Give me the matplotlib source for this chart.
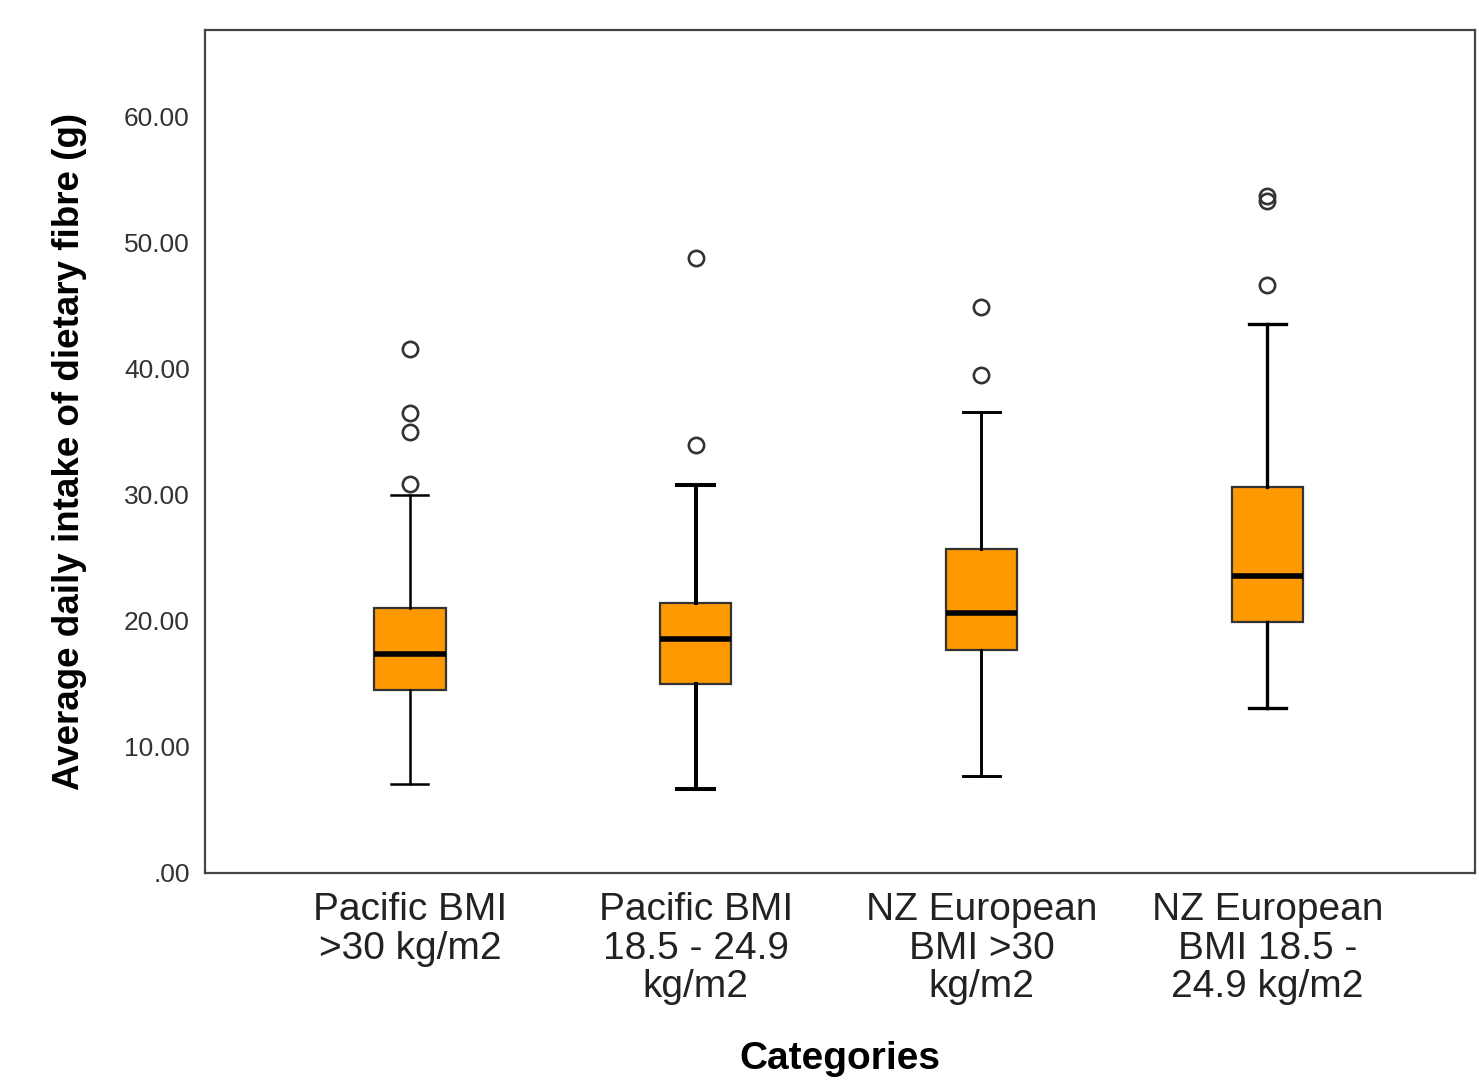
import matplotlib.pyplot as plt

plt.rcParams['font.family'] = ['Liberation Sans', 'DejaVu Sans']

# category labels along the x axis
categories = ["Pacific BMI\n>30 kg/m2",
              "Pacific BMI\n18.5 - 24.9\nkg/m2",
              "NZ European\nBMI >30\nkg/m2",
              "NZ European\nBMI 18.5 -\n24.9 kg/m2"]

# box statistics (grams of fibre per day)
whisker_low = [7.1, 6.7, 7.7, 13.1]
q1 = [14.5, 15.0, 17.7, 19.9]
median = [17.4, 18.6, 20.6, 23.6]
q3 = [21.0, 21.4, 25.7, 30.6]
whisker_high = [30.0, 30.8, 36.6, 43.6]
outliers = [[30.9, 35.0, 36.5, 41.6],
            [34.0, 48.8],
            [39.5, 44.9],
            [46.7, 53.3, 53.7]]

# line width of whiskers differs a bit from box to box in the original
whisker_lw = [1.8, 2.9, 2.1, 2.4]

stats = []
for i in range(len(categories)):
    stats.append({
        "whislo": whisker_low[i], "q1": q1[i], "med": median[i],
        "q3": q3[i], "whishi": whisker_high[i], "fliers": outliers[i],
    })

fig = plt.figure(figsize=(14.79, 10.8), dpi=100)
ax = fig.add_axes([0.1386, 0.1917, 0.8587, 0.7805])

bp = ax.bxp(stats, positions=[1, 2, 3, 4], widths=0.25, patch_artist=True,
            showfliers=True,
            boxprops=dict(facecolor="#ff9900", edgecolor="#333333", linewidth=1.6),
            medianprops=dict(color="black", linewidth=4, solid_capstyle="butt"),
            flierprops=dict(marker="o", markersize=11, markerfacecolor="none",
                            markeredgecolor="#333333", markeredgewidth=1.9))

for i in range(len(categories)):
    for line in bp["whiskers"][2 * i:2 * i + 2] + bp["caps"][2 * i:2 * i + 2]:
        line.set_color("black")
        line.set_linewidth(whisker_lw[i])
    for cap in bp["caps"][2 * i:2 * i + 2]:
        xs = cap.get_xdata()
        mid = (xs[0] + xs[1]) / 2
        cap.set_xdata([mid - 0.065, mid + 0.065])

ax.set_xlim(0.283, 4.727)
ax.set_ylim(0, 66.9)
ax.set_yticks([0, 10, 20, 30, 40, 50, 60])
ax.set_yticklabels([".00", "10.00", "20.00", "30.00", "40.00", "50.00", "60.00"])
ax.set_xticks([1, 2, 3, 4])
ax.set_xticklabels(categories, fontsize=28, color="#222222", va="top")
for lbl in ax.get_xticklabels():
    lbl.set_linespacing(1.08)

ax.tick_params(axis="y", length=0, pad=11, labelsize=19, labelcolor="#333333")
ax.tick_params(axis="x", length=0, pad=14)

for side in ax.spines.values():
    side.set_color("#444444")
    side.set_linewidth(1.6)

ax.set_ylabel("Average daily intake of dietary fibre (g)", fontsize=26.5,
              fontweight="bold")
ax.yaxis.set_label_coords(-0.093, 0.5)
ax.set_xlabel("Categories", fontsize=28, fontweight="bold")
ax.xaxis.set_label_coords(0.5, -0.199)

fig.savefig("out.png", dpi=100)
